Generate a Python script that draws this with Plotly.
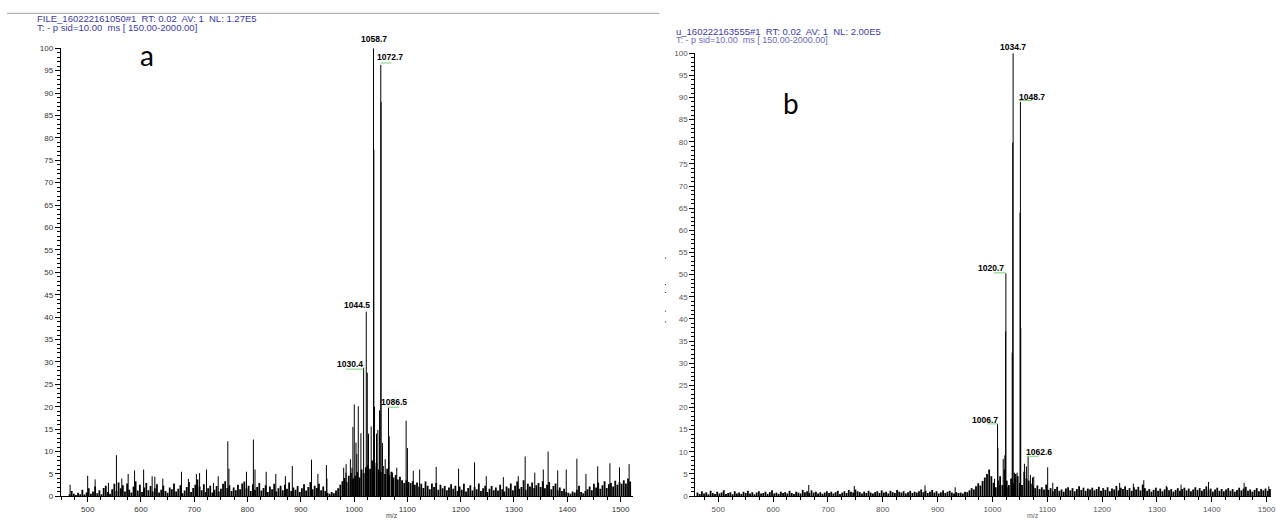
import plotly.graph_objects as go

# ---------------- data: panel a ----------------
noise_a_start = 466
noise_a_step = 4
noise_a = [
    0.4, 1.2, 0.6, 0.3, 0.8, 0.5, 1.5, 0.4, 0.9, 1.8, 0.6, 1.1, 2.2, 0.7, 1.4, 0.5, 1.9, 2.4, 1.0, 0.6,
    1.6, 2.8, 1.2, 3.1, 1.8, 2.5, 1.1, 2.9, 1.5, 0.9, 2.2, 3.4, 1.3, 2.6, 1.0, 2.0, 3.0, 1.4, 2.3, 1.1,
    1.8, 2.7, 0.9, 1.5, 2.4, 1.2, 0.8, 2.0, 1.6, 2.9, 1.1, 1.7, 2.5, 0.7, 1.3, 2.1, 3.2, 1.0, 1.9, 2.6,
    3.8, 2.2, 1.4, 2.7, 1.0, 1.8, 2.4, 0.9, 1.5, 2.3, 1.1, 1.7, 2.8, 3.4, 1.9, 2.5, 1.2, 2.0, 1.4, 2.6,
    1.6, 2.9, 3.3, 1.8, 2.4, 1.2, 2.7, 1.5, 2.1, 3.0, 1.3, 1.9, 2.5, 1.0, 2.2, 1.6, 2.8, 1.1, 1.8, 2.4,
    1.4, 2.6, 1.7, 3.1, 1.2, 2.0, 1.5, 2.3, 1.0, 1.8, 2.7, 1.3, 2.1, 3.2, 1.6, 2.4, 1.9, 2.8, 1.4, 2.2,
    1.2, 0.8, 0.6, 1.0, 0.7, 1.3, 1.8, 2.6, 3.4, 4.1, 3.2, 4.6, 5.2, 4.0, 4.6, 5.4, 4.2, 6.0, 5.2, 6.5,
    7.0, 6.2, 8.0, 6.8, 7.5, 6.0, 5.5, 6.8, 5.0, 6.2, 4.8, 5.5, 4.2, 4.8, 3.8, 4.4, 3.6, 3.0, 3.6, 3.2,
    3.0, 3.4, 2.6, 3.1, 2.2, 2.8, 1.9, 3.3, 2.4, 1.6, 2.9, 2.1, 3.0, 1.5, 2.6, 1.8, 2.3, 1.4, 2.0, 2.7,
    1.7, 2.4, 1.2, 2.2, 1.5, 2.8, 1.1, 1.9, 2.5, 1.3, 2.1, 1.6, 2.9, 1.2, 1.8, 2.4, 1.0, 1.7, 2.3, 1.4,
    2.0, 1.3, 2.6, 1.6, 1.1, 2.2, 1.8, 2.9, 1.4, 2.4, 3.3, 1.7, 2.1, 3.6, 1.5, 2.8, 2.2, 3.1, 1.9, 2.5,
    3.0, 2.1, 3.4, 1.8, 2.6, 3.2, 1.6, 2.3, 2.9, 1.4, 2.0, 1.2, 1.7, 1.0, 0.8, 0.6, 1.1, 0.9, 1.5, 2.4,
    1.0, 0.7, 1.2, 1.6, 2.2, 1.4, 2.8, 2.0, 3.1, 1.7, 2.5, 3.4, 1.9, 2.7, 3.0, 2.2, 3.5, 2.6, 3.2, 2.8,
    3.6, 2.9, 4.0, 3.3,
]
peaks_a_mz = [
    467, 500, 514, 539, 554, 564, 576, 588, 605, 621, 626, 641, 676, 689, 704, 710, 723, 736, 745,
    763, 765, 798, 811, 814, 835, 853, 871, 884, 920, 932, 948, 949, 980.4, 984.7, 985, 993, 996, 997.7,
    1000.3, 1003.5, 1005, 1007.8, 1012.7, 1017.8, 1022.8, 1024.7, 1027, 1032, 1036.4, 1037.0, 1038.3,
    1042, 1044.5, 1047.7, 1050, 1050.6, 1053.3, 1058.3, 1064.5, 1065.8, 1072, 1080, 1097.6, 1100,
    1111, 1123, 1154, 1196, 1226, 1248, 1280, 1308, 1321, 1339, 1355, 1364, 1382, 1398, 1418,
    1435, 1457, 1480, 1498, 1516,
]
peaks_a_int = [
    2.6, 4.6, 3.8, 3.0, 9.2, 4.0, 5.0, 5.8, 6.0, 4.5, 4.4, 4.0, 5.5, 3.9, 5.0, 5.2, 6.0, 3.0, 4.5,
    12.3, 6.2, 5.5, 12.7, 6.0, 5.5, 5.0, 4.5, 6.8, 8.2, 5.0, 7.0, 4.0, 6.4, 5.3, 7.2, 8.3, 6.4, 15.5,
    20.5, 12.0, 9.5, 20.1, 14.1, 28.7, 41.2, 27.6, 14.0, 15.6, 100.0, 77.4, 20.0,
    14.0, 14.8, 19.2, 96.3, 88.0, 11.9, 8.3, 19.8, 13.4, 5.3, 6.4, 16.9, 10.8,
    5.7, 6.0, 6.6, 6.2, 7.6, 4.5, 4.3, 4.5, 8.9, 5.3, 6.0, 10.0, 5.8, 6.0, 8.4,
    5.0, 6.7, 7.4, 6.5, 7.2,
]
labels_a_text = ["1058.7", "1072.7", "1044.5", "1030.4", "1086.5"]
labels_a_x = [1037.4, 1068.2, 1004.7, 992.9, 1075.7]
labels_a_y = [102.0, 98.0, 42.6, 29.5, 21.1]
marks_a_x0 = [1049.5, 984.7, 1062.6]
marks_a_x1 = [1070.1, 1017.8, 1084.5]
marks_a_y = [96.7, 28.4, 19.9]

# ---------------- data: panel b ----------------
noise_b_start = 462
noise_b_step = 4
noise_b = [
    0.8, 0.5, 1.1, 0.6, 0.9, 0.4, 1.2, 0.7, 0.5, 1.0, 0.6, 0.8, 1.3, 0.5, 0.7, 0.9, 0.4, 1.1, 0.6, 0.8,
    0.5, 1.0, 0.7, 1.2, 0.6, 0.9, 0.4, 0.8, 1.1, 0.6, 0.7, 1.0, 0.5, 0.9, 1.3, 0.6, 0.8, 0.5, 1.0, 0.7,
    0.9, 0.6, 1.2, 0.7, 0.5, 1.0, 0.8, 0.6, 1.4, 0.9, 1.1, 0.7, 1.3, 0.8, 1.0, 0.6, 0.9, 0.5, 0.8, 1.1,
    0.7, 1.0, 0.6, 0.9, 1.2, 0.5, 0.8, 1.1, 0.7, 1.4, 1.0, 0.8, 1.5, 1.1, 0.9, 0.6, 1.0, 0.7, 1.2, 0.8,
    0.6, 0.9, 1.1, 0.7, 1.3, 0.8, 1.0, 0.6, 1.2, 0.9, 0.7, 1.4, 1.0, 0.8, 1.1, 0.6, 0.9, 1.2, 0.7, 1.0,
    0.8, 1.1, 1.5, 0.9, 1.2, 0.7, 1.0, 1.4, 0.8, 1.1, 0.6, 0.9, 1.3, 0.7, 1.0, 1.2, 0.8, 0.6, 0.9, 0.7,
    0.8, 0.6, 1.0, 0.9, 1.3, 1.8, 1.5, 2.2, 2.9, 2.4, 3.4, 4.2, 5.0, 6.0, 4.5, 3.0, 2.0, 3.5, 4.5, 2.5,
    6.0, 3.5, 2.5, 4.0, 3.0, 5.0, 4.5, 3.0, 2.5, 5.5, 4.0, 3.5, 2.8, 2.2, 1.8, 2.4, 1.6, 2.0, 1.5, 2.6,
    1.4, 1.8, 1.1, 1.6, 2.1, 1.2, 1.5, 1.0, 1.7, 2.0, 1.3, 1.8, 1.1, 1.6, 2.2, 1.4, 1.9, 1.2, 1.7, 1.5,
    1.9, 1.3, 1.6, 2.1, 1.2, 1.8, 1.4, 2.0, 1.1, 1.7, 1.5, 2.3, 1.3, 1.9, 1.6, 2.2, 1.4, 1.8, 1.2, 2.0,
    1.5, 2.1, 1.3, 2.6, 1.8, 1.2, 1.6, 1.0, 1.4, 1.9, 1.2, 1.7, 1.1, 1.5, 2.0, 1.3, 1.6, 1.0, 1.4, 1.8,
    1.2, 1.6, 1.9, 1.3, 1.7, 1.1, 1.5, 2.0, 1.4, 1.8, 1.2, 1.6, 2.2, 1.3, 1.7, 1.0, 1.5, 1.9, 1.2, 1.6,
    1.1, 1.5, 1.8, 1.2, 1.6, 1.0, 1.4, 1.9, 1.3, 1.7, 2.1, 1.2, 1.5, 1.0, 1.4, 1.8, 1.1, 1.6, 1.3, 1.7,
    1.2, 1.6, 1.4,
]
peaks_b_mz = [
    665, 748, 877, 932, 1003.8, 1009.3, 1009.9, 1012.3, 1019.6, 1022.6, 1024.0, 1024.5, 1028.1,
    1036.0, 1037.0, 1037.7, 1040.1, 1045, 1050.4, 1051, 1051.6, 1058.3, 1061.9, 1065, 1069.2,
    1073, 1075.3, 1100.7, 1110, 1232, 1257, 1276, 1317, 1344, 1394, 1459, 1504,
]
peaks_b_int = [
    2.5, 2.3, 2.4, 2.0, 3.9, 16.3, 10.9, 2.5, 8.4, 9.2, 37.2, 50.3, 2.0,
    32.4, 79.8, 100.0, 5.3, 5.3, 64.0, 89.0, 38.0, 7.3, 6.7, 9.0, 4.8,
    4.2, 4.4, 6.5, 3.0, 3.0, 2.8, 3.6, 2.3, 2.6, 3.2, 3.0, 2.2,
]
labels_b_text = ["1034.7", "1048.7", "1020.7", "1006.7", "1062.6"]
labels_b_x = [1037.7, 1072.2, 997.8, 986.0, 1085.8]
labels_b_y = [101.3, 90.0, 51.4, 17.2, 9.9]
marks_b_x0 = [1048.1, 1002.7, 990.6, 1063.1]
marks_b_x1 = [1072.2, 1023.8, 1010.0, 1084.4]
marks_b_y = [89.3, 50.4, 16.3, 9.0]

header_a = ["FILE_160222161050#1  RT: 0.02  AV: 1  NL: 1.27E5",
            "T: - p sid=10.00  ms [ 150.00-2000.00]"]
header_b = ["u_160222163555#1  RT: 0.02  AV: 1  NL: 2.00E5",
            "T: - p sid=10.00  ms [ 150.00-2000.00]"]

W, H = 1276, 525
DOM_A_Y = [(H - 501) / H, (H - 45) / H]
DOM_B_Y = [(H - 500.7) / H, (H - 50) / H]


def sticks(mz, inten):
    xs, ys = [], []
    for m, v in zip(mz, inten):
        xs += [m, m, None]
        ys += [0, v, None]
    return xs, ys


grid_a = [noise_a_start + i * noise_a_step for i in range(len(noise_a))]
grid_b = [noise_b_start + i * noise_b_step for i in range(len(noise_b))]
nxa, nya = sticks(grid_a, noise_a)
pxa, pya = sticks(peaks_a_mz, peaks_a_int)
nxb, nyb = sticks(grid_b, noise_b)
pxb, pyb = sticks(peaks_b_mz, peaks_b_int)

fig = go.Figure()
fig.add_trace(go.Scatter(x=nxa, y=nya, mode="lines", line=dict(color="black", width=1.8),
                         xaxis="x", yaxis="y", hoverinfo="skip", showlegend=False))
fig.add_trace(go.Scatter(x=pxa, y=pya, mode="lines", line=dict(color="black", width=1),
                         xaxis="x", yaxis="y", hoverinfo="skip", showlegend=False))
fig.add_trace(go.Scatter(x=nxb, y=nyb, mode="lines", line=dict(color="black", width=1.8),
                         xaxis="x2", yaxis="y2", hoverinfo="skip", showlegend=False))
fig.add_trace(go.Scatter(x=pxb, y=pyb, mode="lines", line=dict(color="black", width=1),
                         xaxis="x2", yaxis="y2", hoverinfo="skip", showlegend=False))

tickfont_a = dict(family="Liberation Sans, Arial", size=8, color="#333333")
tickfont_b = dict(family="Liberation Sans, Arial", size=8, color="#555555")

common_x = dict(showline=True, linecolor="black", linewidth=1, ticks="outside", ticklen=5,
                tickcolor="black", tickwidth=1, showgrid=False, zeroline=False, dtick=100,
                ticklabeloverflow="allow",
                minor=dict(dtick=25, ticks="outside", ticklen=3, tickcolor="black"))
common_y = dict(showline=True, linecolor="black", linewidth=1, ticks="outside", ticklen=5,
                tickcolor="black", tickwidth=1, showgrid=False, zeroline=False, dtick=5,
                range=[0, 100],
                minor=dict(dtick=1, ticks="outside", ticklen=3, tickcolor="black"))

fig.update_layout(
    width=W, height=H,
    margin=dict(l=0, r=0, t=0, b=0),
    paper_bgcolor="white", plot_bgcolor="white",
    xaxis=dict(domain=[61 / W, 635 / W], range=[449.5, 1522.4], anchor="y",
               tickfont=tickfont_a, **common_x),
    yaxis=dict(domain=DOM_A_Y, anchor="x", tickfont=tickfont_a, **common_y),
    xaxis2=dict(domain=[698 / W, 1.0], range=[458.0, 1508.0], anchor="y2",
                tickfont=tickfont_b, **common_x),
    yaxis2=dict(domain=DOM_B_Y, anchor="x2", tickfont=tickfont_b, **common_y),
)


def ypaper(v, dom):
    return dom[0] + v / 100.0 * (dom[1] - dom[0])


def text_ann(x, y, text, font, xref="paper", yref="paper", xanchor="center"):
    return dict(x=x, y=y, xref=xref, yref=yref, text=text, showarrow=False,
                xanchor=xanchor, yanchor="middle", font=font)


ann = []
shapes = []
label_font = dict(family="Liberation Sans, Arial", size=8.5, color="black")
for t, x, y in zip(labels_a_text, labels_a_x, labels_a_y):
    ann.append(text_ann(x, ypaper(y, DOM_A_Y), "<b>" + t + "</b>", label_font, xref="x"))
for t, x, y in zip(labels_b_text, labels_b_x, labels_b_y):
    ann.append(text_ann(x, ypaper(y, DOM_B_Y), "<b>" + t + "</b>", label_font, xref="x2"))
for x0, x1, y in zip(marks_a_x0, marks_a_x1, marks_a_y):
    shapes.append(dict(type="line", xref="x", yref="y", x0=x0, x1=x1, y0=y, y1=y,
                       line=dict(color="#7ccf7c", width=1)))
for x0, x1, y in zip(marks_b_x0, marks_b_x1, marks_b_y):
    shapes.append(dict(type="line", xref="x2", yref="y2", x0=x0, x1=x1, y0=y, y1=y,
                       line=dict(color="#7ccf7c", width=1)))

# headers
hfont = dict(family="Liberation Sans, Arial", size=9.5, color="#3a3aa8")
for t, yp in zip(header_a, [15, 24]):
    ann.append(text_ann(35 / W, 1 - yp / H, t, hfont, xanchor="left"))
hfont_b = [dict(family="Liberation Sans, Arial", size=9.5, color="#3a3aa8"),
           dict(family="Liberation Sans, Arial", size=9, color="#6a6ab8")]
for i, (t, yp) in enumerate(zip(header_b, [28, 37])):
    ann.append(text_ann(677 / W, 1 - yp / H, t, hfont_b[i], xanchor="left"))

# panel letters
letter_font = dict(family="Lato, Open Sans, Arial", size=28, color="black")
ann.append(text_ann(148 / W, 1 - 52 / H, "a", letter_font))
ann.append(text_ann(794 / W, 1 - 101 / H, "b", letter_font))

# axis titles
ann.append(text_ann(394 / W, 1 - 520 / H, "m/z",
                    dict(family="Liberation Sans, Arial", size=7, color="#444444")))
ann.append(text_ann(1037 / W, 1 - 520 / H, "m/z",
                    dict(family="Liberation Sans, Arial", size=7, color="#666666")))

# top rule line
shapes.append(dict(type="line", xref="paper", yref="paper", x0=7 / W, x1=662 / W,
                   y0=1 - 9.5 / H, y1=1 - 9.5 / H, line=dict(color="#a0a0a0", width=1)))
# small stray marks left of panel b
for yp in [258, 285, 293, 312, 323]:
    shapes.append(dict(type="rect", xref="paper", yref="paper", x0=667.5 / W, x1=668.7 / W,
                       y0=1 - (yp + 1) / H, y1=1 - yp / H, line=dict(width=0),
                       fillcolor="#333333"))

fig.update_layout(annotations=ann, shapes=shapes)
fig.write_html("out.html", config={"displayModeBar": False},
               post_script="document.body.style.margin='0';document.body.style.overflow='hidden';")
